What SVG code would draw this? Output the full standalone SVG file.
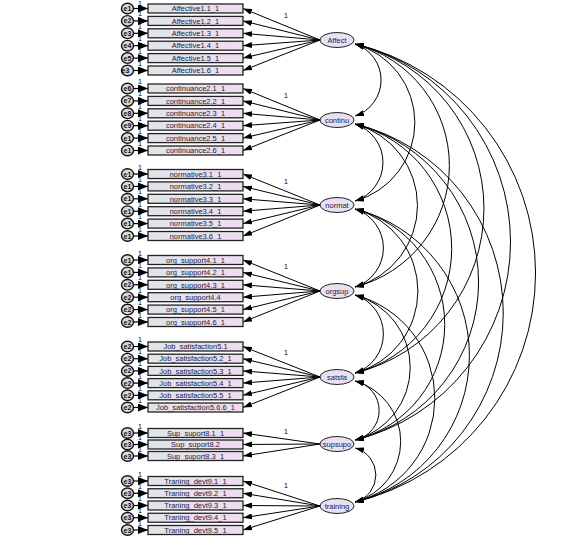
<svg xmlns="http://www.w3.org/2000/svg" width="566" height="539" viewBox="0 0 566 539">
<defs>
<linearGradient id="bg" x1="0" y1="0" x2="1" y2="0"><stop offset="0" stop-color="#dfe5ea"/><stop offset="1" stop-color="#f0dbf2"/></linearGradient>
<marker id="ah" markerUnits="userSpaceOnUse" markerWidth="10" markerHeight="6" refX="9" refY="3" orient="auto-start-reverse"><path d="M0,0 L9,3 L0,6 z" fill="#000"/></marker>
<marker id="eh" markerUnits="userSpaceOnUse" markerWidth="11" markerHeight="8" refX="10" refY="4" orient="auto"><path d="M0,0 L10,4 L0,8 z" fill="#000"/></marker>
<style>
.box{fill:url(#bg);stroke:#222;stroke-width:1.3}
.err{fill:#d9d9d9;stroke:#111;stroke-width:1.4}
.lat{fill:#e9e0f3;stroke:#222;stroke-width:1}
.t{font-family:"Liberation Sans",Arial,sans-serif;font-size:7.5px;fill:#1c1c3a;text-anchor:middle}
.et{font-family:"Liberation Sans",Arial,sans-serif;font-size:7px;fill:#111;text-anchor:middle;font-weight:bold}
.one{font-family:"Liberation Sans",Arial,sans-serif;font-size:7px;fill:#000;text-anchor:middle}
.ld{stroke:#000;stroke-width:1;fill:none;marker-end:url(#ah)}
.ea{stroke:#000;stroke-width:1.2;fill:none;marker-end:url(#eh)}
.cv{stroke:#000;stroke-width:1;fill:none;marker-start:url(#ah);marker-end:url(#ah)}
</style>
</defs>
<rect width="566" height="539" fill="#fff"/>

<g id="connectors">
<path class="ea" d="M133.5 8.5H148"/><path class="ea" d="M133.5 20.9H148"/><path class="ea" d="M133.5 33.3H148"/><path class="ea" d="M133.5 45.7H148"/><path class="ea" d="M133.5 58.1H148"/><path class="ea" d="M133.5 70.5H148"/>
<path class="ea" d="M133.5 88.5H148"/><path class="ea" d="M133.5 100.9H148"/><path class="ea" d="M133.5 113.3H148"/><path class="ea" d="M133.5 125.7H148"/><path class="ea" d="M133.5 138.1H148"/><path class="ea" d="M133.5 150.5H148"/>
<path class="ea" d="M133.5 174H148"/><path class="ea" d="M133.5 186.4H148"/><path class="ea" d="M133.5 198.8H148"/><path class="ea" d="M133.5 211.2H148"/><path class="ea" d="M133.5 223.6H148"/><path class="ea" d="M133.5 236H148"/>
<path class="ea" d="M133.5 260H148"/><path class="ea" d="M133.5 272.4H148"/><path class="ea" d="M133.5 284.8H148"/><path class="ea" d="M133.5 297.2H148"/><path class="ea" d="M133.5 309.6H148"/><path class="ea" d="M133.5 322H148"/>
<path class="ea" d="M133.5 346.5H148"/><path class="ea" d="M133.5 358.7H148"/><path class="ea" d="M133.5 370.9H148"/><path class="ea" d="M133.5 383.1H148"/><path class="ea" d="M133.5 395.3H148"/><path class="ea" d="M133.5 407.5H148"/>
<path class="ea" d="M133.5 433H148"/><path class="ea" d="M133.5 444.5H148"/><path class="ea" d="M133.5 456H148"/>
<path class="ea" d="M133.5 481H148"/><path class="ea" d="M133.5 493.25H148"/><path class="ea" d="M133.5 505.5H148"/><path class="ea" d="M133.5 517.75H148"/><path class="ea" d="M133.5 530H148"/>
<path class="ld" d="M320 40L243 8.5"/><path class="ld" d="M320 40L243 20.9"/><path class="ld" d="M320 40L243 33.3"/><path class="ld" d="M320 40L243 45.7"/><path class="ld" d="M320 40L243 58.1"/><path class="ld" d="M320 40L243 70.5"/>
<path class="ld" d="M320 120L243 88.5"/><path class="ld" d="M320 120L243 100.9"/><path class="ld" d="M320 120L243 113.3"/><path class="ld" d="M320 120L243 125.7"/><path class="ld" d="M320 120L243 138.1"/><path class="ld" d="M320 120L243 150.5"/>
<path class="ld" d="M320 205L243 174"/><path class="ld" d="M320 205L243 186.4"/><path class="ld" d="M320 205L243 198.8"/><path class="ld" d="M320 205L243 211.2"/><path class="ld" d="M320 205L243 223.6"/><path class="ld" d="M320 205L243 236"/>
<path class="ld" d="M320 291L243 260"/><path class="ld" d="M320 291L243 272.4"/><path class="ld" d="M320 291L243 284.8"/><path class="ld" d="M320 291L243 297.2"/><path class="ld" d="M320 291L243 309.6"/><path class="ld" d="M320 291L243 322"/>
<path class="ld" d="M320 377L243 346.5"/><path class="ld" d="M320 377L243 358.7"/><path class="ld" d="M320 377L243 370.9"/><path class="ld" d="M320 377L243 383.1"/><path class="ld" d="M320 377L243 395.3"/><path class="ld" d="M320 377L243 407.5"/>
<path class="ld" d="M320 444L243 433"/><path class="ld" d="M320 444L243 444.5"/><path class="ld" d="M320 444L243 456"/>
<path class="ld" d="M320 506L243 481"/><path class="ld" d="M320 506L243 493.25"/><path class="ld" d="M320 506L243 505.5"/><path class="ld" d="M320 506L243 517.75"/><path class="ld" d="M320 506L243 530"/>
<path class="cv" d="M355 44A37.9 37.9 0 0 1 355 116"/>
<path class="cv" d="M355 44A81.4 81.4 0 0 1 355 201"/>
<path class="cv" d="M355 44A125.4 125.4 0 0 1 355 287"/>
<path class="cv" d="M355 44A169.4 169.4 0 0 1 355 373"/>
<path class="cv" d="M355 44A203.8 203.8 0 0 1 355 440"/>
<path class="cv" d="M355 44A235.5 235.5 0 0 1 355 502"/>
<path class="cv" d="M355 124A40.5 40.5 0 0 1 355 201"/>
<path class="cv" d="M355 124A84.4 84.4 0 0 1 355 287"/>
<path class="cv" d="M355 124A128.5 128.5 0 0 1 355 373"/>
<path class="cv" d="M355 124A162.8 162.8 0 0 1 355 440"/>
<path class="cv" d="M355 124A194.6 194.6 0 0 1 355 502"/>
<path class="cv" d="M355 209A41 41 0 0 1 355 287"/>
<path class="cv" d="M355 209A84.9 84.9 0 0 1 355 373"/>
<path class="cv" d="M355 209A119.2 119.2 0 0 1 355 440"/>
<path class="cv" d="M355 209A151 151 0 0 1 355 502"/>
<path class="cv" d="M355 295A41 41 0 0 1 355 373"/>
<path class="cv" d="M355 295A75.2 75.2 0 0 1 355 440"/>
<path class="cv" d="M355 295A107 107 0 0 1 355 502"/>
<path class="cv" d="M355 381A30.1 30.1 0 0 1 355 440"/>
<path class="cv" d="M355 381A62.9 62.9 0 0 1 355 502"/>
<path class="cv" d="M355 448A27.9 27.9 0 0 1 355 502"/>
</g>

<g id="labels-fixed">
<text class="one" x="286" y="18">1</text><text class="one" x="286" y="98">1</text><text class="one" x="286" y="184">1</text><text class="one" x="286" y="269">1</text><text class="one" x="286" y="355">1</text><text class="one" x="286" y="434">1</text><text class="one" x="286" y="488">1</text>
<text class="one" x="140" y="5.5">1</text><text class="one" x="140" y="16.4">1</text><text class="one" x="140" y="28.8">1</text><text class="one" x="140" y="41.2">1</text><text class="one" x="140" y="53.6">1</text><text class="one" x="140" y="66">1</text>
<text class="one" x="140" y="84">1</text><text class="one" x="140" y="96.4">1</text><text class="one" x="140" y="108.8">1</text><text class="one" x="140" y="121.2">1</text><text class="one" x="140" y="133.6">1</text><text class="one" x="140" y="146">1</text>
<text class="one" x="140" y="169.5">1</text><text class="one" x="140" y="181.9">1</text><text class="one" x="140" y="194.3">1</text><text class="one" x="140" y="206.7">1</text><text class="one" x="140" y="219.1">1</text><text class="one" x="140" y="231.5">1</text>
<text class="one" x="140" y="255.5">1</text><text class="one" x="140" y="267.9">1</text><text class="one" x="140" y="280.3">1</text><text class="one" x="140" y="292.7">1</text><text class="one" x="140" y="305.1">1</text><text class="one" x="140" y="317.5">1</text>
<text class="one" x="140" y="342">1</text><text class="one" x="140" y="354.2">1</text><text class="one" x="140" y="366.4">1</text><text class="one" x="140" y="378.6">1</text><text class="one" x="140" y="390.8">1</text><text class="one" x="140" y="403">1</text>
<text class="one" x="140" y="428.5">1</text><text class="one" x="140" y="440">1</text><text class="one" x="140" y="451.5">1</text>
<text class="one" x="140" y="476.5">1</text><text class="one" x="140" y="488.75">1</text><text class="one" x="140" y="501">1</text><text class="one" x="140" y="513.25">1</text><text class="one" x="140" y="525.5">1</text>
</g>

<g id="latents">
<g id="Affect"><ellipse class="lat" cx="337" cy="40" rx="17" ry="7.5"/><text class="t" x="337" y="42.7">Affect</text></g>
<g id="continu"><ellipse class="lat" cx="337" cy="120" rx="17" ry="7.5"/><text class="t" x="337" y="122.7">continu</text></g>
<g id="normat"><ellipse class="lat" cx="337" cy="205" rx="17" ry="7.5"/><text class="t" x="337" y="207.7">normat</text></g>
<g id="orgsup"><ellipse class="lat" cx="337" cy="291" rx="17" ry="7.5"/><text class="t" x="337" y="293.7">orgsup</text></g>
<g id="satsfa"><ellipse class="lat" cx="337" cy="377" rx="17" ry="7.5"/><text class="t" x="337" y="379.7">satsfa</text></g>
<g id="supsupo"><ellipse class="lat" cx="337" cy="444" rx="17" ry="7.5"/><text class="t" x="337" y="446.7">supsupo</text></g>
<g id="training"><ellipse class="lat" cx="337" cy="506" rx="17" ry="7.5"/><text class="t" x="337" y="508.7">training</text></g>
</g>

<g id="indicators">
<g id="Affective1.1_1"><rect class="box" x="148" y="4" width="95" height="9"/><text class="t" x="195.5" y="11.2">Affective1.1_1</text></g>
<g id="Affective1.2_1"><rect class="box" x="148" y="16.4" width="95" height="9"/><text class="t" x="195.5" y="23.6">Affective1.2_1</text></g>
<g id="Affective1.3_1"><rect class="box" x="148" y="28.8" width="95" height="9"/><text class="t" x="195.5" y="36">Affective1.3_1</text></g>
<g id="Affective1.4_1"><rect class="box" x="148" y="41.2" width="95" height="9"/><text class="t" x="195.5" y="48.4">Affective1.4_1</text></g>
<g id="Affective1.5_1"><rect class="box" x="148" y="53.6" width="95" height="9"/><text class="t" x="195.5" y="60.8">Affective1.5_1</text></g>
<g id="Affective1.6_1"><rect class="box" x="148" y="66" width="95" height="9"/><text class="t" x="195.5" y="73.2">Affective1.6_1</text></g>

<g id="continuance2.1_1"><rect class="box" x="148" y="84" width="95" height="9"/><text class="t" x="195.5" y="91.2">continuance2.1_1</text></g>
<g id="continuance2.2_1"><rect class="box" x="148" y="96.4" width="95" height="9"/><text class="t" x="195.5" y="103.6">continuance2.2_1</text></g>
<g id="continuance2.3_1"><rect class="box" x="148" y="108.8" width="95" height="9"/><text class="t" x="195.5" y="116">continuance2.3_1</text></g>
<g id="continuance2.4_1"><rect class="box" x="148" y="121.2" width="95" height="9"/><text class="t" x="195.5" y="128.4">continuance2.4_1</text></g>
<g id="continuance2.5_1"><rect class="box" x="148" y="133.6" width="95" height="9"/><text class="t" x="195.5" y="140.8">continuance2.5_1</text></g>
<g id="continuance2.6_1"><rect class="box" x="148" y="146" width="95" height="9"/><text class="t" x="195.5" y="153.2">continuance2.6_1</text></g>

<g id="normative3.1_1"><rect class="box" x="148" y="169.5" width="95" height="9"/><text class="t" x="195.5" y="176.7">normative3.1_1</text></g>
<g id="normative3.2_1"><rect class="box" x="148" y="181.9" width="95" height="9"/><text class="t" x="195.5" y="189.1">normative3.2_1</text></g>
<g id="normative3.3_1"><rect class="box" x="148" y="194.3" width="95" height="9"/><text class="t" x="195.5" y="201.5">normative3.3_1</text></g>
<g id="normative3.4_1"><rect class="box" x="148" y="206.7" width="95" height="9"/><text class="t" x="195.5" y="213.9">normative3.4_1</text></g>
<g id="normative3.5_1"><rect class="box" x="148" y="219.1" width="95" height="9"/><text class="t" x="195.5" y="226.3">normative3.5_1</text></g>
<g id="normative3.6_1"><rect class="box" x="148" y="231.5" width="95" height="9"/><text class="t" x="195.5" y="238.7">normative3.6_1</text></g>

<g id="org_support4.1_1"><rect class="box" x="148" y="255.5" width="95" height="9"/><text class="t" x="195.5" y="262.7">org_support4.1_1</text></g>
<g id="org_support4.2_1"><rect class="box" x="148" y="267.9" width="95" height="9"/><text class="t" x="195.5" y="275.1">org_support4.2_1</text></g>
<g id="org_support4.3_1"><rect class="box" x="148" y="280.3" width="95" height="9"/><text class="t" x="195.5" y="287.5">org_support4.3_1</text></g>
<g id="org_support4.4"><rect class="box" x="148" y="292.7" width="95" height="9"/><text class="t" x="195.5" y="299.9">org_support4.4</text></g>
<g id="org_support4.5_1"><rect class="box" x="148" y="305.1" width="95" height="9"/><text class="t" x="195.5" y="312.3">org_support4.5_1</text></g>
<g id="org_support4.6_1"><rect class="box" x="148" y="317.5" width="95" height="9"/><text class="t" x="195.5" y="324.7">org_support4.6_1</text></g>

<g id="Job_satisfaction5.1"><rect class="box" x="148" y="342" width="95" height="9"/><text class="t" x="195.5" y="349.2">Job_satisfaction5.1</text></g>
<g id="Job_satisfaction5.2_1"><rect class="box" x="148" y="354.2" width="95" height="9"/><text class="t" x="195.5" y="361.4">Job_satisfaction5.2_1</text></g>
<g id="Job_satisfaction5.3_1"><rect class="box" x="148" y="366.4" width="95" height="9"/><text class="t" x="195.5" y="373.6">Job_satisfaction5.3_1</text></g>
<g id="Job_satisfaction5.4_1"><rect class="box" x="148" y="378.6" width="95" height="9"/><text class="t" x="195.5" y="385.8">Job_satisfaction5.4_1</text></g>
<g id="Job_satisfaction5.5_1"><rect class="box" x="148" y="390.8" width="95" height="9"/><text class="t" x="195.5" y="398">Job_satisfaction5.5_1</text></g>
<g id="Job_satisfaction5.6.6_1"><rect class="box" x="148" y="403" width="95" height="9"/><text class="t" x="195.5" y="410.2">Job_satisfaction5.6.6_1</text></g>

<g id="Sup_suport8.1_1"><rect class="box" x="148" y="428.5" width="95" height="9"/><text class="t" x="195.5" y="435.7">Sup_suport8.1_1</text></g>
<g id="Sup_suport8.2"><rect class="box" x="148" y="440" width="95" height="9"/><text class="t" x="195.5" y="447.2">Sup_suport8.2</text></g>
<g id="Sup_suport8.3_1"><rect class="box" x="148" y="451.5" width="95" height="9"/><text class="t" x="195.5" y="458.7">Sup_suport8.3_1</text></g>

<g id="Traning_devt9.1_1"><rect class="box" x="148" y="476.5" width="95" height="9"/><text class="t" x="195.5" y="483.7">Traning_devt9.1_1</text></g>
<g id="Traning_devt9.2_1"><rect class="box" x="148" y="488.75" width="95" height="9"/><text class="t" x="195.5" y="495.95">Traning_devt9.2_1</text></g>
<g id="Traning_devt9.3_1"><rect class="box" x="148" y="501" width="95" height="9"/><text class="t" x="195.5" y="508.2">Traning_devt9.3_1</text></g>
<g id="Traning_devt9.4_1"><rect class="box" x="148" y="513.25" width="95" height="9"/><text class="t" x="195.5" y="520.45">Traning_devt9.4_1</text></g>
<g id="Traning_devt9.5_1"><rect class="box" x="148" y="525.5" width="95" height="9"/><text class="t" x="195.5" y="532.7">Traning_devt9.5_1</text></g>
</g>

<g id="errors">
<g id="e1"><ellipse class="err" cx="127.5" cy="8.5" rx="6" ry="5.3"/><text class="et" x="127.5" y="11">e1</text></g>
<g id="e2"><ellipse class="err" cx="127.5" cy="20.9" rx="6" ry="5.3"/><text class="et" x="127.5" y="23.4">e2</text></g>
<g id="e3"><ellipse class="err" cx="127.5" cy="33.3" rx="6" ry="5.3"/><text class="et" x="127.5" y="35.8">e3</text></g>
<g id="e4"><ellipse class="err" cx="127.5" cy="45.7" rx="6" ry="5.3"/><text class="et" x="127.5" y="48.2">e4</text></g>
<g id="e5"><ellipse class="err" cx="127.5" cy="58.1" rx="6" ry="5.3"/><text class="et" x="127.5" y="60.6">e5</text></g>
<g id="e6a"><ellipse class="err" cx="127.5" cy="70.5" rx="6" ry="5.3"/><text class="et" x="125.5" y="73">e3</text></g>
<g id="e6"><ellipse class="err" cx="127.5" cy="88.5" rx="6" ry="5.3"/><text class="et" x="127.5" y="91">e6</text></g>
<g id="e7"><ellipse class="err" cx="127.5" cy="100.9" rx="6" ry="5.3"/><text class="et" x="127.5" y="103.4">e7</text></g>
<g id="e8"><ellipse class="err" cx="127.5" cy="113.3" rx="6" ry="5.3"/><text class="et" x="127.5" y="115.8">e8</text></g>
<g id="e9"><ellipse class="err" cx="127.5" cy="125.7" rx="6" ry="5.3"/><text class="et" x="127.5" y="128.2">e9</text></g>
<g id="e10"><ellipse class="err" cx="127.5" cy="138.1" rx="6" ry="5.3"/><text class="et" x="127.5" y="140.6">e1</text></g>
<g id="e11"><ellipse class="err" cx="127.5" cy="150.5" rx="6" ry="5.3"/><text class="et" x="127.5" y="153">e1</text></g>
<g id="e12"><ellipse class="err" cx="127.5" cy="174" rx="6" ry="5.3"/><text class="et" x="127.5" y="176.5">e1</text></g>
<g id="e13"><ellipse class="err" cx="127.5" cy="186.4" rx="6" ry="5.3"/><text class="et" x="127.5" y="188.9">e1</text></g>
<g id="e14"><ellipse class="err" cx="127.5" cy="198.8" rx="6" ry="5.3"/><text class="et" x="127.5" y="201.3">e1</text></g>
<g id="e15"><ellipse class="err" cx="127.5" cy="211.2" rx="6" ry="5.3"/><text class="et" x="127.5" y="213.7">e1</text></g>
<g id="e16"><ellipse class="err" cx="127.5" cy="223.6" rx="6" ry="5.3"/><text class="et" x="127.5" y="226.1">e1</text></g>
<g id="e17"><ellipse class="err" cx="127.5" cy="236" rx="6" ry="5.3"/><text class="et" x="127.5" y="238.5">e1</text></g>
<g id="e18"><ellipse class="err" cx="127.5" cy="260" rx="6" ry="5.3"/><text class="et" x="127.5" y="262.5">e1</text></g>
<g id="e19"><ellipse class="err" cx="127.5" cy="272.4" rx="6" ry="5.3"/><text class="et" x="127.5" y="274.9">e1</text></g>
<g id="e20"><ellipse class="err" cx="127.5" cy="284.8" rx="6" ry="5.3"/><text class="et" x="127.5" y="287.3">e2</text></g>
<g id="e21"><ellipse class="err" cx="127.5" cy="297.2" rx="6" ry="5.3"/><text class="et" x="127.5" y="299.7">e2</text></g>
<g id="e22"><ellipse class="err" cx="127.5" cy="309.6" rx="6" ry="5.3"/><text class="et" x="127.5" y="312.1">e2</text></g>
<g id="e23"><ellipse class="err" cx="127.5" cy="322" rx="6" ry="5.3"/><text class="et" x="127.5" y="324.5">e2</text></g>
<g id="e24"><ellipse class="err" cx="127.5" cy="346.5" rx="6" ry="5.3"/><text class="et" x="127.5" y="349">e2</text></g>
<g id="e25"><ellipse class="err" cx="127.5" cy="358.7" rx="6" ry="5.3"/><text class="et" x="127.5" y="361.2">e2</text></g>
<g id="e26"><ellipse class="err" cx="127.5" cy="370.9" rx="6" ry="5.3"/><text class="et" x="127.5" y="373.4">e2</text></g>
<g id="e27"><ellipse class="err" cx="127.5" cy="383.1" rx="6" ry="5.3"/><text class="et" x="127.5" y="385.6">e2</text></g>
<g id="e28"><ellipse class="err" cx="127.5" cy="395.3" rx="6" ry="5.3"/><text class="et" x="127.5" y="397.8">e2</text></g>
<g id="e29"><ellipse class="err" cx="127.5" cy="407.5" rx="6" ry="5.3"/><text class="et" x="127.5" y="410">e2</text></g>
<g id="e30"><ellipse class="err" cx="127.5" cy="433" rx="6" ry="5.3"/><text class="et" x="127.5" y="435.5">e3</text></g>
<g id="e31"><ellipse class="err" cx="127.5" cy="444.5" rx="6" ry="5.3"/><text class="et" x="127.5" y="447">e3</text></g>
<g id="e32"><ellipse class="err" cx="127.5" cy="456" rx="6" ry="5.3"/><text class="et" x="127.5" y="458.5">e3</text></g>
<g id="e33"><ellipse class="err" cx="127.5" cy="481" rx="6" ry="5.3"/><text class="et" x="127.5" y="483.5">e3</text></g>
<g id="e34"><ellipse class="err" cx="127.5" cy="493.25" rx="6" ry="5.3"/><text class="et" x="127.5" y="495.75">e3</text></g>
<g id="e35"><ellipse class="err" cx="127.5" cy="505.5" rx="6" ry="5.3"/><text class="et" x="127.5" y="508">e3</text></g>
<g id="e36"><ellipse class="err" cx="127.5" cy="517.75" rx="6" ry="5.3"/><text class="et" x="127.5" y="520.25">e3</text></g>
<g id="e37"><ellipse class="err" cx="127.5" cy="530" rx="6" ry="5.3"/><text class="et" x="127.5" y="532.5">e3</text></g>
</g>
</svg>
